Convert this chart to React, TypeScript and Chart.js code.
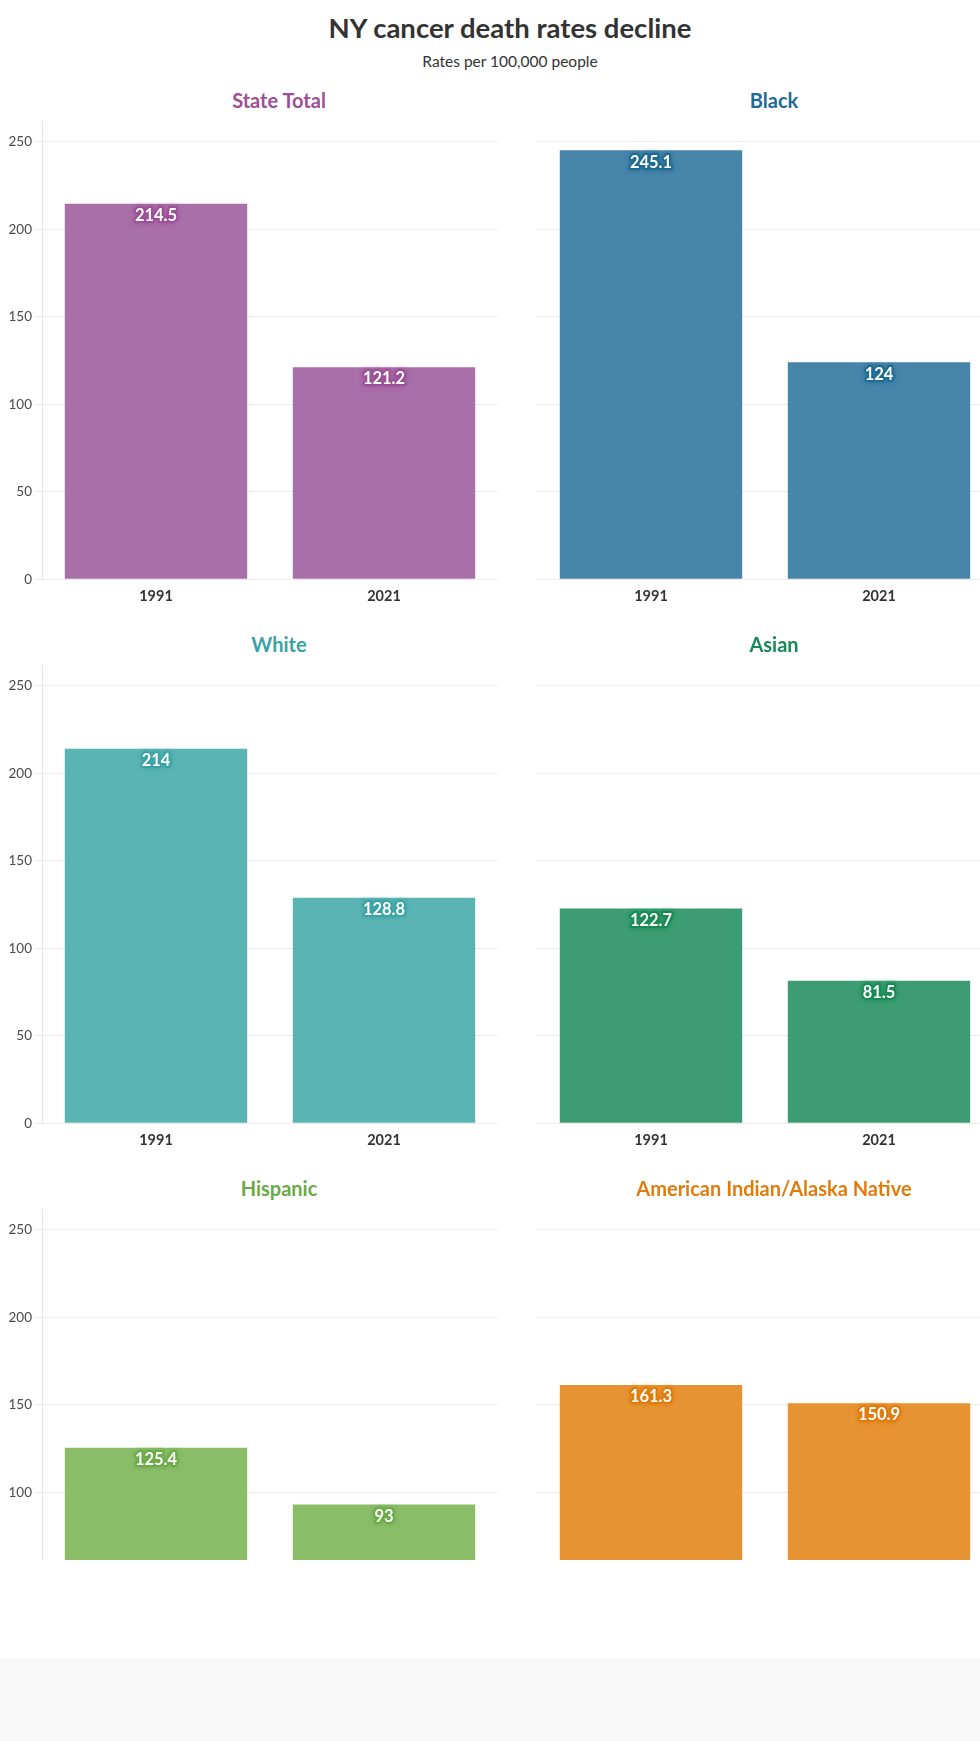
import React, { useEffect, useRef } from "react";
import { Chart, registerables } from "chart.js";
Chart.register(...registerables);

// ---------- data ----------
const years = ["1991", "2021"];
const groups = [
  "State Total",
  "Black",
  "White",
  "Asian",
  "Hispanic",
  "American Indian/Alaska Native",
];
const stateTotal = [214.5, 121.2];
const black = [245.1, 124];
const white = [214, 128.8];
const asian = [122.7, 81.5];
const hispanic = [125.4, 93];
const aian = [161.3, 150.9];
const seriesValues = [stateTotal, black, white, asian, hispanic, aian];
const yTickValues = [0, 50, 100, 150, 200, 250];
const yMax = 261.4;

const barColors = ["#a96fa8", "#4785a9", "#5bb4b4", "#3d9c73", "#8bbd69", "#e69433"];
const titleColors = ["#9b4f96", "#1f6a95", "#3aa3a3", "#178a56", "#6aaa48", "#e07b0c"];

const FONT = "Lato, 'Open Sans', 'Noto Sans', sans-serif";

// ---------- layout ----------
const ROW_TOP = 110;
const ROW_STEP = 544;
const CANVAS_H = 510;
const CANVAS_W = 498;
const COL_LEFT = [0, 494.5];
const TITLE_CX = [279, 774];

const valueLabelPlugin = {
  id: "valueLabels",
  afterDatasetsDraw(chart: any, _args: any, opts: any) {
    const ctx = chart.ctx;
    const meta = chart.getDatasetMeta(0);
    const data = chart.data.datasets[0].data;
    ctx.save();
    ctx.font = `bold 16.5px ${FONT}`;
    ctx.textAlign = "center";
    ctx.textBaseline = "middle";
    meta.data.forEach((el: any, i: number) => {
      const txt = String(data[i]);
      const x = el.x;
      const y = el.y + 12;
      ctx.lineJoin = "round";
      ctx.shadowColor = opts.dark;
      ctx.shadowBlur = 5;
      ctx.strokeStyle = opts.dark;
      ctx.lineWidth = 4;
      ctx.strokeText(txt, x, y);
      ctx.shadowBlur = 0;
      ctx.fillStyle = "#ffffff";
      ctx.fillText(txt, x, y);
    });
    ctx.restore();
  },
};

function Panel({ idx }: { idx: number }) {
  const ref = useRef<HTMLCanvasElement | null>(null);
  const col = idx % 2;
  const row = Math.floor(idx / 2);
  useEffect(() => {
    if (!ref.current) return;
    const showY = col === 0;
    const chart = new Chart(ref.current, {
      type: "bar",
      data: {
        labels: years,
        datasets: [
          {
            data: seriesValues[idx],
            backgroundColor: barColors[idx],
            borderWidth: 0,
            barPercentage: 0.8,
            categoryPercentage: 1.0,
          },
        ],
      },
      options: {
        responsive: false,
        animation: false,
        layout: { padding: { top: 11.7, bottom: 0, left: 0, right: 0 } },
        plugins: {
          legend: { display: false },
          tooltip: { enabled: false },
          title: { display: false },
          valueLabels: { dark: titleColors[idx] },
        } as any,
        scales: {
          x: {
            grid: { display: false, drawTicks: false },
            border: { display: false },
            ticks: {
              padding: 8,
              color: "#333333",
              font: { family: FONT, size: 14.5, weight: "bold" },
            },
            afterFit: (s: any) => {
              s.height = 40.7;
            },
          },
          y: {
            min: 0,
            max: yMax,
            afterBuildTicks: (s: any) => {
              s.ticks = yTickValues.map((v) => ({ value: v }));
            },
            grid: {
              color: "#ebebeb",
              lineWidth: 1,
              drawTicks: showY,
              tickLength: 7,
            },
            border: { display: showY, color: "#e4e4e4" },
            ticks: {
              display: showY,
              padding: 3,
              color: "#4a4a4a",
              font: { family: FONT, size: 13.5 },
            },
            afterFit: (s: any) => {
              s.width = 42;
            },
          },
        },
      },
      plugins: [valueLabelPlugin],
    });
    return () => chart.destroy();
  }, [idx]);
  return (
    <>
      <div
        style={{
          position: "absolute",
          left: TITLE_CX[col] - 250,
          width: 500,
          top: 88 + ROW_STEP * row,
          lineHeight: "24px",
          textAlign: "center",
          fontFamily: FONT,
          fontWeight: 700,
          fontSize: 20,
          color: titleColors[idx],
        }}
      >
        {groups[idx]}
      </div>
      <canvas
        ref={ref}
        width={CANVAS_W}
        height={CANVAS_H}
        style={{
          position: "absolute",
          left: COL_LEFT[col],
          top: ROW_TOP + ROW_STEP * row,
          width: CANVAS_W,
          height: CANVAS_H,
        }}
      />
    </>
  );
}

export default function App() {
  return (
    <div
      style={{
        position: "absolute",
        left: 0,
        top: 0,
        width: 980,
        height: 1741,
        overflow: "hidden",
        background: "#ffffff",
      }}
    >
      <div
        style={{
          position: "absolute",
          left: 0,
          top: 0,
          width: 980,
          height: 1560,
          overflow: "hidden",
        }}
      >
        <div
          style={{
            position: "absolute",
            left: 0,
            width: 1020,
            top: 12,
            lineHeight: "32px",
            textAlign: "center",
            fontFamily: FONT,
            fontWeight: 700,
            fontSize: 27.5,
            color: "#333333",
          }}
        >
          NY cancer death rates decline
        </div>
        <div
          style={{
            position: "absolute",
            left: 0,
            width: 1020,
            top: 51,
            lineHeight: "20px",
            textAlign: "center",
            fontFamily: FONT,
            fontSize: 15.5,
            color: "#333333",
          }}
        >
          Rates per 100,000 people
        </div>
        {groups.map((_, i) => (
          <Panel key={i} idx={i} />
        ))}
      </div>
      <div
        style={{
          position: "absolute",
          left: 0,
          top: 1659,
          width: 980,
          height: 82,
          background: "#f8f8f8",
        }}
      />
    </div>
  );
}
